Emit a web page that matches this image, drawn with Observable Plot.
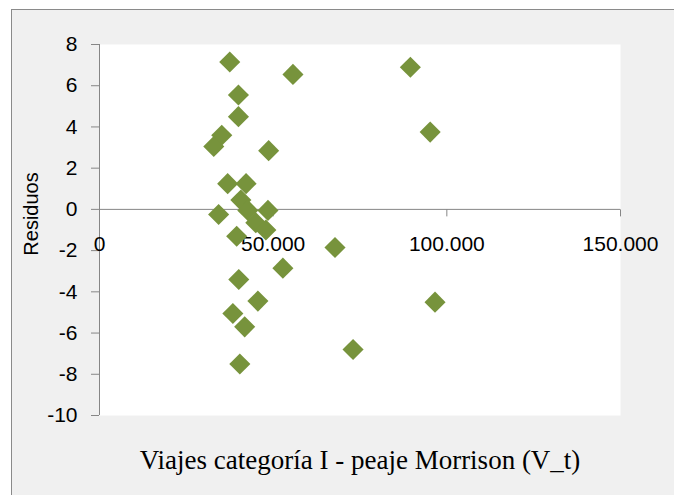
<!DOCTYPE html>
<html>
<head>
<meta charset="utf-8">
<script src="https://cdn.jsdelivr.net/npm/d3@7"></script>
<script src="https://cdn.jsdelivr.net/npm/@observablehq/plot@0.6"></script>
<style>
  html, body { margin: 0; padding: 0; background: #ffffff; }
  #wrap { position: relative; width: 674px; height: 495px; overflow: hidden; }
  #panel { position: absolute; left: 11px; top: 9px; width: 700px; height: 520px;
           background: #f0f0f0; border-top: 1.5px solid #8a8a8a; border-left: 1.5px solid #8a8a8a; }
  #chart { position: absolute; left: 0; top: 0; }
</style>
</head>
<body>
<div id="wrap"><div id="panel"></div><div id="chart"></div></div>
<script>
// Data (x = viajes, y = residuos)
const viajes = [37500, 55700, 89500, 40000, 40000, 95200, 35200, 32900, 48700, 36900,
                42200, 40700, 42700, 48500, 34300, 45000, 47900, 39500, 67800, 52800,
                40100, 45600, 96600, 38400, 41800, 73000, 40400];
const residuos = [7.15, 6.55, 6.9, 5.55, 4.5, 3.75, 3.6, 3.05, 2.85, 1.25,
                  1.25, 0.45, -0.05, -0.05, -0.25, -0.65, -1.0, -1.3, -1.85, -2.85,
                  -3.4, -4.45, -4.5, -5.05, -5.7, -6.8, -7.5];
const xTicks = [0, 50000, 100000, 150000];
const xTickLabels = ["0", "50.000", "100.000", "150.000"];
const yTicks = [-10, -8, -6, -4, -2, 0, 2, 4, 6, 8];
const yTickLabels = ["-10", "-8", "-6", "-4", "-2", "0", "2", "4", "6", "8"];
const xTitle = "Viajes categoría I - peaje Morrison (V_t)";
const yTitle = "Residuos";
const axisCross = 0;

const points = viajes.map((v, i) => ({x: v, y: residuos[i]}));
const xTickData = xTicks.map((v, i) => ({x: v, y: axisCross, label: xTickLabels[i]}));

const axisGray = "#868686";
const tickDown = { draw(context) { context.moveTo(0, 0); context.lineTo(0, 7); } };

const chart = Plot.plot({
  width: 674,
  height: 495,
  marginLeft: 99,
  marginRight: 54,
  marginTop: 44,
  marginBottom: 80,
  style: { background: "transparent", fontFamily: "'Liberation Sans', Arial, sans-serif", fontSize: "21px", color: "#000" },
  x: { domain: [0, 150000], axis: null },
  y: { domain: [-10, 8], axis: null },
  marks: [
    Plot.frame({ fill: "white", stroke: "none" }),
    Plot.ruleY([axisCross], { stroke: axisGray, strokeWidth: 1 }),
    Plot.ruleX([0], { stroke: axisGray, strokeWidth: 1 }),
    Plot.axisY({
      ticks: yTicks,
      tickFormat: d => yTickLabels[yTicks.indexOf(d)],
      tickSize: 8, tickPadding: 14,
      stroke: axisGray, fill: "#000",
      label: null
    }),
    Plot.dot(xTickData, { x: "x", y: "y", symbol: tickDown, fill: "none", stroke: axisGray, strokeWidth: 1 }),
    Plot.text(xTickData, { x: "x", y: "y", text: "label", dy: 35, fill: "#000" }),
    Plot.dot(points, { x: "x", y: "y", symbol: "diamond2", r: 9.5, fill: "#77933c", stroke: "none" }),
    Plot.text([yTitle], { frameAnchor: "left", dx: -68, dy: -16, rotate: -90, textAnchor: "middle", lineAnchor: "middle", fontSize: "20px", fill: "#000" }),
    Plot.text([xTitle], { frameAnchor: "bottom", dy: 45, textAnchor: "middle", lineAnchor: "middle", fontSize: "27px", fontFamily: "'Liberation Serif', 'Times New Roman', serif", fill: "#000" })
  ]
});
document.getElementById("chart").appendChild(chart);
</script>
</body>
</html>
